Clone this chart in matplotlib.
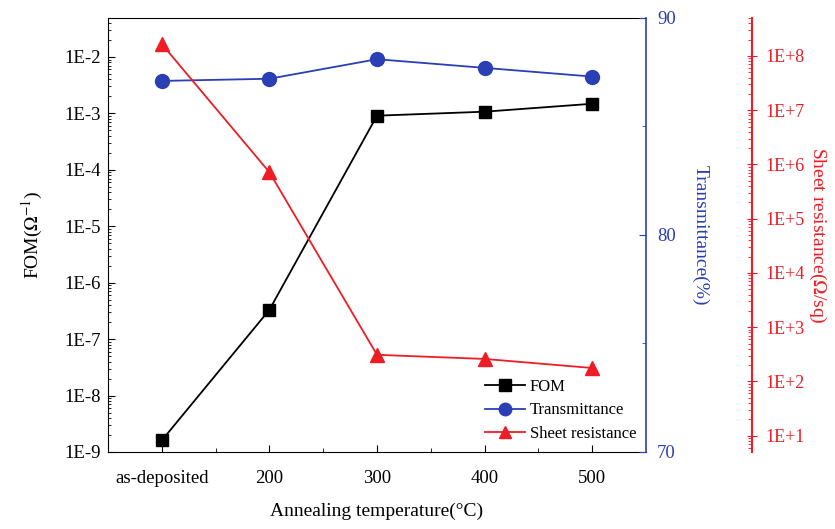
import matplotlib
matplotlib.use("Agg")
import matplotlib.pyplot as plt
from matplotlib.ticker import LogLocator, FuncFormatter, MultipleLocator, FixedLocator, NullFormatter
import numpy as np

plt.rcParams['font.family'] = ['Liberation Serif', 'DejaVu Serif']
plt.rcParams['mathtext.fontset'] = 'stix'

categories = ["as-deposited", "200", "300", "400", "500"]
fom = [1.6e-9, 3.3e-7, 9.1e-4, 1.07e-3, 1.48e-3]
transmittance = [87.1, 87.2, 88.1, 87.7, 87.3]
sheet_res = [1.66e8, 7.2e5, 310, 260, 177]

blue = "#2a3fb5"
red = "#ee1c24"

x = np.arange(1, len(categories) + 1)

fig = plt.figure(figsize=(8.35, 5.29), dpi=100)
ax = fig.add_axes([0.1293, 0.1456, 0.6444, 0.8204])
ax2 = ax.twinx()
ax3 = ax.twinx()
ax2.xaxis.set_visible(False)
ax3.xaxis.set_visible(False)

l1, = ax.plot(x, fom, color="black", marker="s", markersize=9, lw=1.3, label="FOM")
l2, = ax2.plot(x, transmittance, color=blue, marker="o", markersize=10, lw=1.3, label="Transmittance")
l3, = ax3.plot(x, sheet_res, color=red, marker="^", markersize=10, lw=1.3, label="Sheet resistance")

# x axis
ax.set_xlim(0.5, 5.5)
ax.set_xticks(x)
ax.set_xticklabels(categories, fontsize=13.5)
ax.xaxis.set_minor_locator(FixedLocator(np.arange(1.5, 5.5, 1)))
ax.tick_params(axis='x', which='major', direction='in', length=5, pad=13)
ax.tick_params(axis='x', which='minor', direction='in', length=3)
ax.set_xlabel("Annealing temperature(°C)", fontsize=14, labelpad=11)

# left FOM axis
ax.set_yscale('log')
ax.set_ylim(1e-9, 10**-1.31)
ax.yaxis.set_major_locator(LogLocator(base=10, numticks=20))
ax.yaxis.set_minor_locator(LogLocator(base=10, subs=np.arange(2, 10), numticks=20))
ax.yaxis.set_minor_formatter(NullFormatter())
ax.yaxis.set_major_formatter(FuncFormatter(lambda v, p: "1E%d" % int(round(np.log10(v)))))
ax.tick_params(axis='y', which='major', direction='in', length=5, labelsize=13.5, pad=5)
ax.tick_params(axis='y', which='minor', direction='in', length=2.5)
ax.set_ylabel("FOM($\\Omega^{-1}$)", fontsize=14, labelpad=14)
ax.spines['right'].set_visible(False)

# Transmittance axis
ax2.set_ylim(70, 90)
ax2.yaxis.set_major_locator(MultipleLocator(10))
ax2.yaxis.set_minor_locator(MultipleLocator(5))
ax2.tick_params(axis='y', which='major', direction='in', length=5, colors=blue, labelsize=13.5, pad=8)
ax2.tick_params(axis='y', which='minor', direction='in', length=3, colors=blue)
ax2.spines['right'].set_color(blue)
ax2.spines['right'].set_linewidth(1.2)
for s in ['left', 'top', 'bottom']:
    ax2.spines[s].set_visible(False)
ax2.set_ylabel("Transmittance(%)", color=blue, fontsize=14, rotation=270, labelpad=24)

# Sheet resistance axis
ax3.set_yscale('log')
ax3.set_ylim(10**0.7, 10**8.7)
ax3.spines['right'].set_position(('axes', 1.197))
ax3.spines['right'].set_color(red)
ax3.spines['right'].set_linewidth(1.5)
for s in ['left', 'top', 'bottom']:
    ax3.spines[s].set_visible(False)
ax3.yaxis.set_major_locator(LogLocator(base=10, numticks=20))
ax3.yaxis.set_minor_locator(LogLocator(base=10, subs=np.arange(2, 10), numticks=20))
ax3.yaxis.set_minor_formatter(NullFormatter())
ax3.yaxis.set_major_formatter(FuncFormatter(lambda v, p: "1E+%d" % int(round(np.log10(v)))))
ax3.tick_params(axis='y', which='major', direction='inout', length=7, colors=red, labelsize=13, pad=6)
ax3.tick_params(axis='y', which='minor', direction='in', length=3, colors=red)
ax3.set_ylabel("Sheet resistance($\\Omega$/sq)", color=red, fontsize=14, rotation=270, labelpad=17)

leg = ax.legend(handles=[l1, l2, l3], loc='lower right', bbox_to_anchor=(1.0, 0.0),
                frameon=False, fontsize=12, handlelength=2.4, handletextpad=0.25,
                labelspacing=0.45, markerscale=0.9, borderaxespad=0.2)

fig.savefig("out.png", dpi=100)
